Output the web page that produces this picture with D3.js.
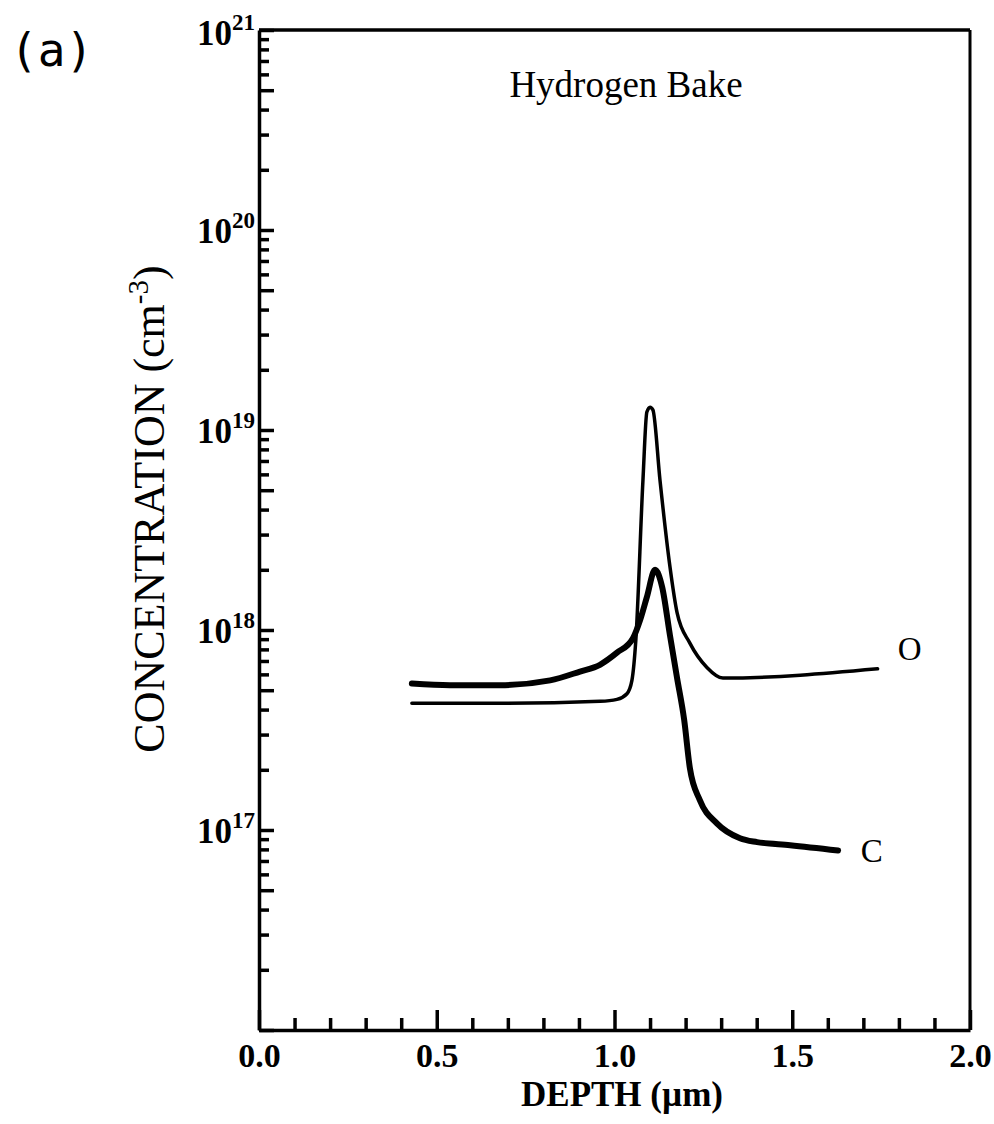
<!DOCTYPE html>
<html>
<head>
<meta charset="utf-8">
<script src="https://cdn.jsdelivr.net/npm/d3@7"></script>
<style>
  body { margin: 0; background: #fff; }
  svg { display: block; }
</style>
</head>
<body>
<svg id="chart" width="994" height="1124"></svg>
<script>
// depth in um, concentration in cm^-3
const depthO = [0.43, 0.68, 0.96, 1.007, 1.035, 1.049, 1.06, 1.08, 1.091, 1.10, 1.108, 1.128, 1.156, 1.176, 1.212, 1.26, 1.305, 1.74];
const concO  = [4.3e17, 4.3e17, 4.4e17, 4.5e17, 4.8e17, 5.6e17, 8.9e17, 5.6e18, 1.23e19, 1.30e19, 1.26e19, 5.6e18, 2.07e18, 1.22e18, 8.6e17, 6.5e17, 5.75e17, 6.4e17];

const depthC = [0.43, 0.537, 0.678, 0.819, 0.903, 0.959, 1.007, 1.052, 1.072, 1.091, 1.114, 1.134, 1.156, 1.176, 1.196, 1.212, 1.24, 1.288, 1.353, 1.401, 1.494, 1.629];
const concC  = [5.4e17, 5.3e17, 5.3e17, 5.6e17, 6.2e17, 6.7e17, 7.7e17, 9.1e17, 1.12e18, 1.46e18, 2.0e18, 1.64e18, 9.4e17, 5.75e17, 3.55e17, 2.04e17, 1.41e17, 1.08e17, 9.1e16, 8.7e16, 8.4e16, 7.9e16];

const xTickLabels = [0, 0.5, 1.0, 1.5, 2.0];
const yDecades = [1e17, 1e18, 1e19, 1e20, 1e21];

let svg = d3.select("#chart");
let serif = "'Liberation Serif', 'Times New Roman', serif";

let xScale = d3.scaleLinear().domain([0, 2]).range([259, 970]);
let yScale = d3.scaleLog().domain([1e16, 1e21]).range([1030, 30]);

// x ticks every 0.1, longer at every 0.5, pointing up into the plot
let xMinor = d3.range(0, 21).map(i => i / 10);
let xAxis = svg.append("g")
    .attr("transform", "translate(0," + yScale(1e16) + ")")
    .call(d3.axisBottom(xScale).tickValues(xMinor).tickSizeOuter(0).tickFormat(""));
xAxis.selectAll(".tick line")
    .attr("y2", d => (Math.round(d * 10) % 5 == 0) ? -20 : -12)
    .attr("stroke-width", 3.5);
xAxis.select(".domain").attr("stroke-width", 3.5);

let xLabels = svg.append("g")
    .attr("transform", "translate(0," + yScale(1e16) + ")")
    .call(d3.axisBottom(xScale).tickValues(xTickLabels).tickSize(0).tickPadding(13).tickFormat(d3.format(".1f")));
xLabels.select(".domain").remove();
xLabels.selectAll("text")
    .style("font-family", serif)
    .style("font-weight", "bold")
    .style("font-size", "34px")
    .style("fill", "#000");

// y ticks at 1..9 x 10^n, longer at 1 and 5
let yAxis = svg.append("g")
    .attr("transform", "translate(" + xScale(0) + ",0)")
    .call(d3.axisRight(yScale).tickSizeOuter(0).tickFormat(""));
yAxis.selectAll(".tick line")
    .attr("x2", function(d) {
        let m = Math.round(d / Math.pow(10, Math.floor(Math.log10(d) + 1e-9)));
        return (m == 1 || m == 5) ? 15 : 10;
    })
    .attr("stroke-width", 3.5);
yAxis.select(".domain").attr("stroke-width", 3.5);

// decade labels 10^n
for (let v of yDecades) {
    let t = svg.append("text")
        .attr("x", xScale(0) - 4)
        .attr("y", yScale(v) + (v == 1e21 ? 15 : 13))
        .style("font-family", serif)
        .style("font-weight", "bold")
        .style("font-size", "35px")
        .style("text-anchor", "end");
    t.append("tspan").text("10");
    t.append("tspan")
        .attr("dy", -15)
        .style("font-size", "23px")
        .text(Math.round(Math.log10(v)));
}

// top and right frame
svg.append("line")
    .attr("x1", xScale(0)).attr("x2", xScale(2))
    .attr("y1", yScale(1e21)).attr("y2", yScale(1e21))
    .attr("stroke", "#000").attr("stroke-width", 3.5);
svg.append("line")
    .attr("x1", xScale(2)).attr("x2", xScale(2))
    .attr("y1", yScale(1e21)).attr("y2", yScale(1e16))
    .attr("stroke", "#000").attr("stroke-width", 3);

// profiles
let line = d3.line()
    .x(d => xScale(d[0]))
    .y(d => yScale(d[1]))
    .curve(d3.curveMonotoneX);

svg.append("path")
    .datum(d3.zip(depthO, concO))
    .attr("d", line)
    .attr("fill", "none")
    .attr("stroke", "#000")
    .attr("stroke-width", 3.5)
    .attr("stroke-linecap", "round")
    .attr("stroke-linejoin", "round");

svg.append("path")
    .datum(d3.zip(depthC, concC))
    .attr("d", line)
    .attr("fill", "none")
    .attr("stroke", "#000")
    .attr("stroke-width", 6)
    .attr("stroke-linecap", "round")
    .attr("stroke-linejoin", "round");

// curve labels
svg.append("text")
    .attr("x", xScale(1.83)).attr("y", yScale(7.1e17))
    .text("O")
    .style("font-family", serif)
    .style("font-size", "33px")
    .style("text-anchor", "middle");
svg.append("text")
    .attr("x", xScale(1.724)).attr("y", yScale(6.9e16))
    .text("C")
    .style("font-family", serif)
    .style("font-size", "33px")
    .style("text-anchor", "middle");

// title inside plot
svg.append("text")
    .attr("x", 626).attr("y", 97)
    .text("Hydrogen Bake")
    .style("font-family", serif)
    .style("font-size", "37px")
    .style("text-anchor", "middle");

// x axis label
svg.append("text")
    .attr("x", 622).attr("y", 1106)
    .text("DEPTH (\u00b5m)")
    .style("font-family", serif)
    .style("font-weight", "bold")
    .style("font-size", "35px")
    .style("text-anchor", "middle");

// y axis label
let yLab = svg.append("text")
    .attr("transform", "translate(164,509) rotate(-90)")
    .style("font-family", serif)
    .style("font-size", "44px")
    .style("text-anchor", "middle");
yLab.append("tspan").text("CONCENTRATION (cm");
yLab.append("tspan").attr("dy", -16).style("font-size", "29px").text("-3");
yLab.append("tspan").attr("dy", 16).text(")");

// panel tag
svg.append("text")
    .attr("x", 10).attr("y", 66)
    .text("(a)")
    .style("font-family", "'DejaVu Sans Mono', monospace")
    .style("font-size", "46px");
</script>
</body>
</html>
